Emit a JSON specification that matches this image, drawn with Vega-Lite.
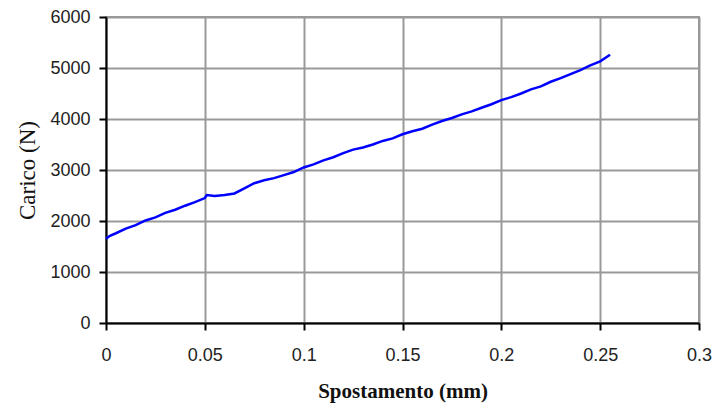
{
  "$schema": "https://vega.github.io/schema/vega-lite/v6.json",
  "width": 593,
  "height": 306,
  "autosize": "none",
  "padding": {"left": 106, "top": 17, "right": 15, "bottom": 83},
  "background": "white",
  "config": {
    "view": {"stroke": "#999999", "strokeWidth": 2},
    "axis": {
      "gridColor": "#999999",
      "gridWidth": 2,
      "gridOpacity": 1,
      "domainColor": "black",
      "domainWidth": 2,
      "tickColor": "black",
      "tickWidth": 2,
      "tickSize": 7,
      "labelFont": "Liberation Sans",
      "labelFontSize": 18,
      "labelColor": "#222222",
      "titleColor": "#111111",
      "titleFont": "Liberation Serif"
    }
  },
  "data": {
    "values": [
      {"x": 0.0, "y": 1650}, {"x": 0.002, "y": 1710}, {"x": 0.005, "y": 1760},
      {"x": 0.01, "y": 1850}, {"x": 0.015, "y": 1920}, {"x": 0.02, "y": 2010},
      {"x": 0.025, "y": 2070}, {"x": 0.03, "y": 2160}, {"x": 0.035, "y": 2220},
      {"x": 0.04, "y": 2300}, {"x": 0.045, "y": 2370}, {"x": 0.05, "y": 2450},
      {"x": 0.051, "y": 2510}, {"x": 0.055, "y": 2490}, {"x": 0.06, "y": 2510},
      {"x": 0.065, "y": 2540}, {"x": 0.07, "y": 2640}, {"x": 0.075, "y": 2740},
      {"x": 0.08, "y": 2800}, {"x": 0.085, "y": 2840}, {"x": 0.09, "y": 2900},
      {"x": 0.095, "y": 2960}, {"x": 0.1, "y": 3050}, {"x": 0.105, "y": 3110},
      {"x": 0.11, "y": 3190}, {"x": 0.115, "y": 3250}, {"x": 0.12, "y": 3330},
      {"x": 0.125, "y": 3400}, {"x": 0.13, "y": 3440}, {"x": 0.135, "y": 3500},
      {"x": 0.14, "y": 3570}, {"x": 0.145, "y": 3620}, {"x": 0.15, "y": 3700},
      {"x": 0.155, "y": 3760}, {"x": 0.16, "y": 3810}, {"x": 0.165, "y": 3890},
      {"x": 0.17, "y": 3960}, {"x": 0.175, "y": 4020}, {"x": 0.18, "y": 4090},
      {"x": 0.185, "y": 4150}, {"x": 0.19, "y": 4220}, {"x": 0.195, "y": 4290},
      {"x": 0.2, "y": 4370}, {"x": 0.205, "y": 4430}, {"x": 0.21, "y": 4500},
      {"x": 0.215, "y": 4580}, {"x": 0.22, "y": 4640}, {"x": 0.225, "y": 4730},
      {"x": 0.23, "y": 4800}, {"x": 0.235, "y": 4880}, {"x": 0.24, "y": 4960},
      {"x": 0.245, "y": 5050}, {"x": 0.25, "y": 5130}, {"x": 0.255, "y": 5260}
    ]
  },
  "mark": {"type": "line", "color": "#0000ff", "strokeWidth": 2.5},
  "encoding": {
    "x": {
      "field": "x",
      "type": "quantitative",
      "scale": {"domain": [0, 0.3], "nice": false},
      "axis": {
        "values": [0, 0.05, 0.1, 0.15, 0.2, 0.25, 0.3],
        "format": "~g",
        "labelFlush": false,
        "labelPadding": 16,
        "title": "Spostamento (mm)",
        "titleFontSize": 21,
        "titleFontWeight": "bold",
        "titlePadding": 16
      }
    },
    "y": {
      "field": "y",
      "type": "quantitative",
      "scale": {"domain": [0, 6000], "nice": false},
      "axis": {
        "values": [0, 1000, 2000, 3000, 4000, 5000, 6000],
        "format": "d",
        "labelPadding": 9,
        "title": "Carico (N)",
        "titleFontSize": 23,
        "titleFontWeight": "normal",
        "titleX": -67
      }
    }
  }
}
